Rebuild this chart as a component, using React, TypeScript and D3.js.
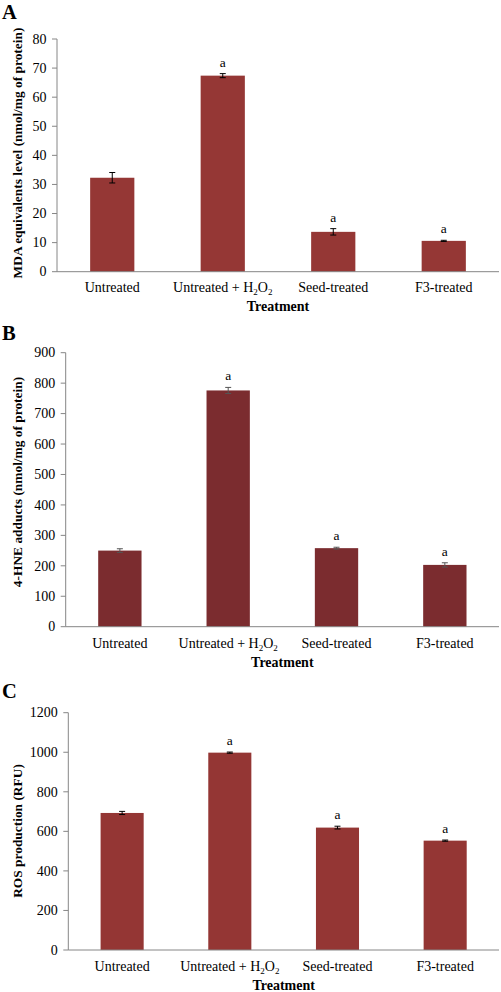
import React from "react";
import * as d3 from "d3";

const categories = ["Untreated", "Untreated + H2O2", "Seed-treated", "F3-treated"];

const mdaValues = [32.3, 67.4, 13.7, 10.6];
const mdaErrors = [1.8, 0.7, 1.1, 0.2];
const mdaLetters = ["", "a", "a", "a"];
const mdaTicks = [0, 10, 20, 30, 40, 50, 60, 70, 80];

const hneValues = [250, 776, 258, 203];
const hneErrors = [6, 10, 3, 7];
const hneLetters = ["", "a", "a", "a"];
const hneTicks = [0, 100, 200, 300, 400, 500, 600, 700, 800, 900];

const rosValues = [693, 998, 619, 553];
const rosErrors = [8, 3, 7, 3];
const rosLetters = ["", "a", "a", "a"];
const rosTicks = [0, 200, 400, 600, 800, 1000, 1200];

const FONT = "'Liberation Serif', 'Times New Roman', serif";

type PanelProps = {
  letter: string;
  letterY: number;
  axisX: number;
  right: number;
  top: number;
  bottom: number;
  ticks: number[];
  values: number[];
  errors: number[];
  letters: string[];
  color: string;
  errColor: string;
  yLabel: string;
  yLabelY: number;
  catY: number;
  titleY: number;
};

function CatLabel({ text, x, y }: { text: string; x: number; y: number }) {
  if (text === "Untreated + H2O2") {
    return (
      <text x={x} y={y} textAnchor="middle" fontSize={14} fontFamily={FONT}>
        Untreated + H
        <tspan fontSize={9} dy={3}>2</tspan>
        <tspan dy={-3}>O</tspan>
        <tspan fontSize={9} dy={3}>2</tspan>
      </text>
    );
  }
  return (
    <text x={x} y={y} textAnchor="middle" fontSize={14} fontFamily={FONT}>
      {text}
    </text>
  );
}

function Panel(p: PanelProps) {
  const x = d3.scaleBand<string>().domain(categories).range([p.axisX, p.right]).paddingInner(0.6).paddingOuter(0.3);
  const y = d3.scaleLinear().domain([0, p.ticks[p.ticks.length - 1]]).range([p.bottom, p.top]);
  const bw = x.bandwidth();
  return (
    <g>
      <text x={2} y={p.letterY} fontSize={20.5} fontWeight="bold" fontFamily={FONT}>
        {p.letter}
      </text>
      {p.ticks.map((t) => (
        <g key={t}>
          <line x1={p.axisX - 5} x2={p.axisX} y1={y(t)} y2={y(t)} stroke="#868686" strokeWidth={1} />
          <text x={p.axisX - 10.5} y={y(t)} dy="0.34em" textAnchor="end" fontSize={14} fontFamily={FONT}>
            {t}
          </text>
        </g>
      ))}
      <line x1={p.axisX} x2={p.axisX} y1={p.top} y2={p.bottom} stroke="#868686" strokeWidth={1} />
      {categories.map((c, i) => {
        const bx = x(c)!;
        const cx = bx + bw / 2;
        const v = p.values[i];
        const e = p.errors[i];
        return (
          <g key={c}>
            <rect x={bx} y={y(v)} width={bw} height={p.bottom - y(v)} fill={p.color} />
            <line x1={cx} x2={cx} y1={y(v + e)} y2={y(v - e)} stroke={p.errColor} strokeWidth={1} />
            <line x1={cx - 3} x2={cx + 3} y1={y(v + e)} y2={y(v + e)} stroke={p.errColor} strokeWidth={1} />
            <line x1={cx - 3} x2={cx + 3} y1={y(v - e)} y2={y(v - e)} stroke={p.errColor} strokeWidth={1} />
            {p.letters[i] && (
              <text x={cx} y={y(v + e) - 7} textAnchor="middle" fontSize={13.5} fontFamily={FONT}>
                {p.letters[i]}
              </text>
            )}
            <CatLabel text={c} x={cx} y={p.catY} />
          </g>
        );
      })}
      <line x1={p.axisX} x2={p.right} y1={p.bottom} y2={p.bottom} stroke="#868686" strokeWidth={1} />
      <text
        x={(p.axisX + p.right) / 2}
        y={p.titleY}
        textAnchor="middle"
        fontSize={14}
        fontWeight="bold"
        fontFamily={FONT}
      >
        Treatment
      </text>
      <text
        transform={`translate(21.5,${p.yLabelY}) rotate(-90)`}
        textAnchor="middle"
        fontSize={13.4}
        fontWeight="bold"
        fontFamily={FONT}
      >
        {p.yLabel}
      </text>
    </g>
  );
}

export default function App() {
  return (
    <svg width={501} height={992} style={{ position: "absolute", left: 0, top: 0, background: "#fff" }}>
      <rect width={501} height={992} fill="#fff" />
      <Panel
        letter="A"
        letterY={18.5}
        axisX={57}
        right={499}
        top={39}
        bottom={271.7}
        ticks={mdaTicks}
        values={mdaValues}
        errors={mdaErrors}
        letters={mdaLetters}
        color="#953735"
        errColor="#000"
        yLabel="MDA equivalents level (nmol/mg of protein)"
        yLabelY={153}
        catY={292}
        titleY={311}
      />
      <Panel
        letter="B"
        letterY={340}
        axisX={65.7}
        right={499}
        top={352.7}
        bottom={626.7}
        ticks={hneTicks}
        values={hneValues}
        errors={hneErrors}
        letters={hneLetters}
        color="#7b2c2f"
        errColor="#555"
        yLabel="4-HNE adducts (nmol/mg of protein)"
        yLabelY={482}
        catY={648}
        titleY={667}
      />
      <Panel
        letter="C"
        letterY={698}
        axisX={68.3}
        right={499}
        top={712.7}
        bottom={950}
        ticks={rosTicks}
        values={rosValues}
        errors={rosErrors}
        letters={rosLetters}
        color="#943634"
        errColor="#000"
        yLabel="ROS production (RFU)"
        yLabelY={831}
        catY={971}
        titleY={990}
      />
    </svg>
  );
}
